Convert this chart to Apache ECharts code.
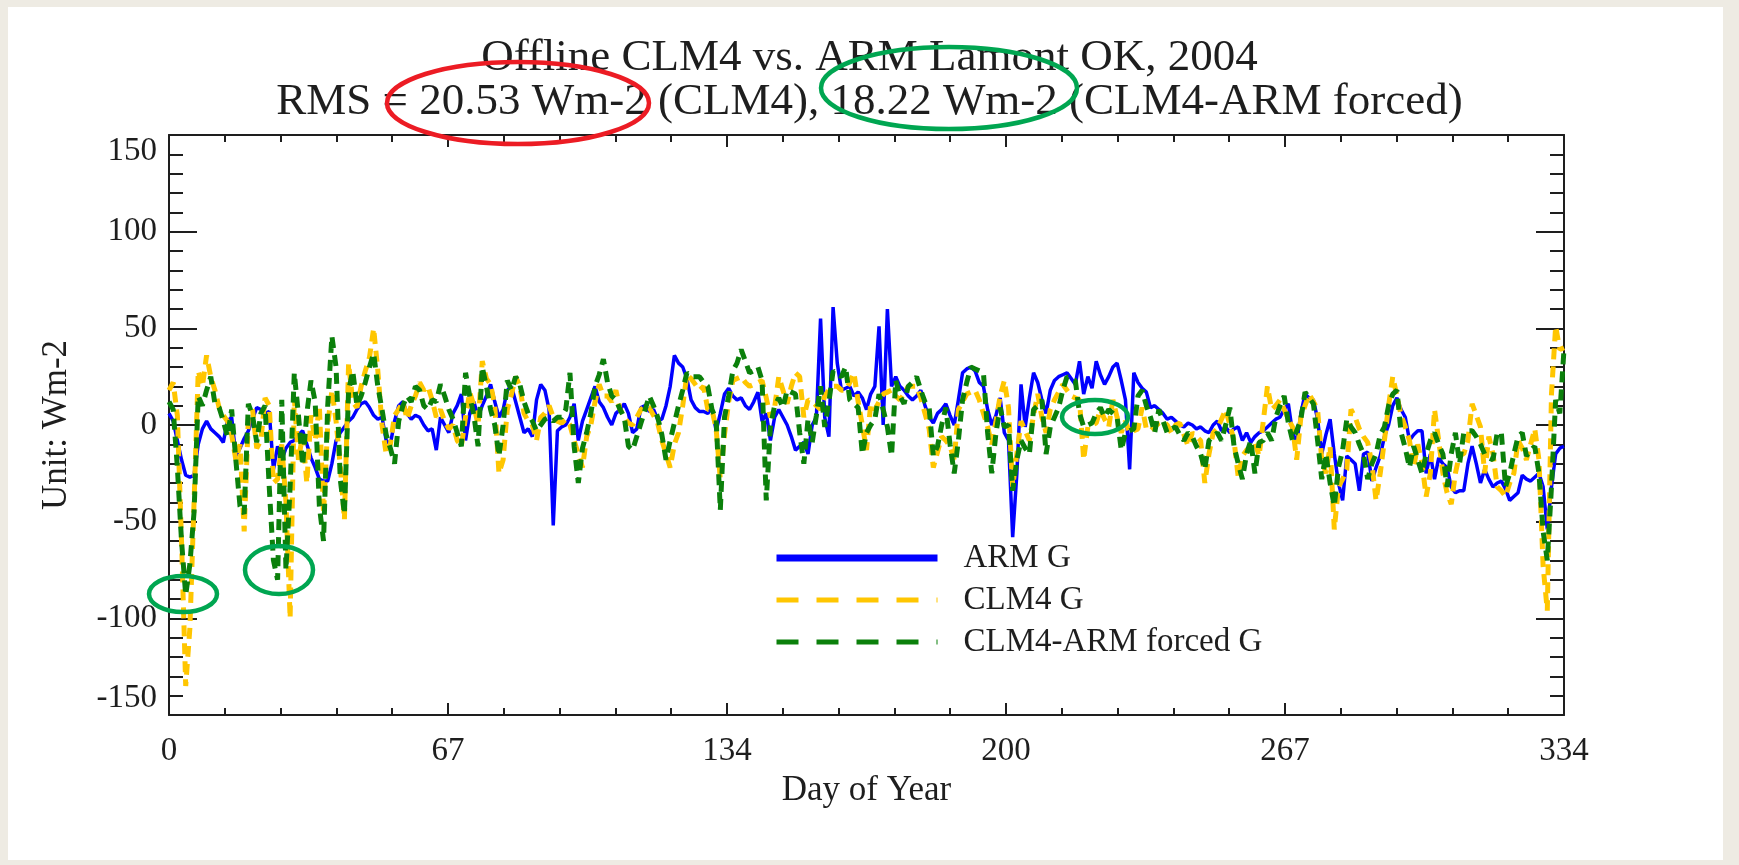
<!DOCTYPE html>
<html>
<head>
<meta charset="UTF-8">
<title>Offline CLM4 vs. ARM Lamont OK, 2004</title>
<script src="https://cdn.jsdelivr.net/npm/echarts@6/dist/echarts.min.js"></script>
<style>
  body { margin: 0; background: #eeebe3; }
  #panel { position: absolute; left: 8px; top: 7px; width: 1715px; height: 853px; background: #fff; }
  #chart { position: absolute; left: 0; top: 0; width: 1739px; height: 865px; }
</style>
</head>
<body>
<div id="panel"></div>
<div id="chart"></div>
<script>
// ground heat flux G (Wm-2), one value per day, day 0 .. 334
var armG = [
  6, 2, -8, -18, -26, -27, -26, -10, -2, 2,
  -2, -4, -6, -9, 2, 4, -16, -12, -7, -3,
  3, 9, 8, 6, 7, -23, -11, -18, -12, -9,
  -8, -5, -3, -10, -17, -22, -28, -29, -29, -20,
  -8, -4, -1, 2, 4, 8, 11, 12, 9, 5,
  3, 4, -8, -10, 2, 10, 12, 6, 3, 5,
  4, 0, -3, -2, -13, 4, 0, -4, 6, 10,
  16, -8, 6, 12, 4, 10, 15, 21, 12, 4,
  8, 18, 20, 12, 4, -4, -2, -6, 13, 21,
  18, 8, -52, -3, -1, 0, 4, 11, -8, 2,
  8, 14, 20, 12, 9, 4, 0, 6, 8, 11,
  6, -4, -2, 9, 10, 7, 8, 3, 3, 10,
  20, 36, 32, 30, 24, 13, 9, 7, 7, 6,
  9, -3, 6, 16, 19, 15, 13, 14, 10, 8,
  12, 17, 2, 6, -8, 4, 8, 4, 0, -6,
  -13, -11, -9, -15, 0, 4, 55, 4, -6, 61,
  32, 18, 19, 20, 15, 17, 14, 8, 16, 20,
  51, 0, 60, 20, 25, 20, 18, 15, 13, 15,
  18, 10, 4, 1, 6, 8, 11, 5, 0, 13,
  27, 29, 30, 28, 22, 20, 8, 0, 5, 14,
  -4, -8, -58, -25, 21, -1, 14, 27, 22, 13,
  6, 18, 23, 25, 26, 27, 24, 21, 33, 16,
  25, 19, 33, 26, 21, 25, 30, 32, 23, 13,
  -23, 27, 22, 19, 17, 9, 10, 8, 6, 3,
  4, 2, 0, -1, 1, 0, -2, -1, -3, -4,
  0, 2, -3, -1, -4, -2, -1, -8, -4, -9,
  -6, -4, -3, -1, 1, 3, 4, 8, 11, -4,
  -9, 6, 16, 14, 13, 3, -15, -5, 3, -15,
  -30, -39, -16, -18, -20, -34, -15, -14, -29, -22,
  -16, -6, 0, 10, 14, 8, 4, -8, -5, -3,
  -3, -25, -15, -28, -17, -20, -22, -32, -35, -34,
  -34, -20, -11, -20, -30, -23, -28, -32, -30, -29,
  -33, -39, -37, -35, -26, -28, -29, -27, -25, -32,
  -54, -32, -15, -12, -11
];

var clm4G = [
  18, 22, 5, -60, -135, -105, -40, 28, 20, 36,
  25, 18, 9, 5, 2, -5, -18, -10, -55, 3,
  8, -12, -8, 14, 10, -30, -28, -10, -40, -100,
  14, -18, -5, -30, 5, -8, 10, -46, 0, 18,
  2, -21, -49, 32, 12, 9, 20, 28, 35, 50,
  28, 0, -15, -10, 5, 8, 12, 3, 10, 15,
  22, 18, 20, 13, 4, 8, 2, -2, 0, -8,
  -11, 4, 17, 10, 0, 33, 24, 21, 10, -25,
  -18, 8, 16, 25, 20, 6, 2, 0, -8, 4,
  6, 10, 4, 2, 1, 3, 0, -8, -15, -22,
  -6, 0, 12, 21, 15, 15, 12, 18, 8, 4,
  1, 0, 4, 8, 10, 9, 5, 1, -8, -15,
  -22, -10, -4, 10, 26, 24, 21, 18, 20, 8,
  8, -2, -28, -5, 12, 23, 24, 25, 22, 20,
  21, 22, 23, 14, 4, 9, 25, 18, 11, 20,
  27, 25, 4, 13, 12, 10, 8, 15, 18, 20,
  20, 18, 18, 22, 27, 12, 0, -13, 11, 8,
  12, 16, 17, 18, 15, 13, 16, 20, 20, 20,
  14, 6, -2, -22, -14, -6, -8, -11, -18, 8,
  12, 16, 17, 18, 13, 6, -1, -10, 2, 15,
  23, 9, -32, -15, 2, -3, -8, 5, 16, 4,
  -4, 8, 13, 17, 21, 18, 15, 14, 13, -18,
  -1, 0, 1, 8, 3, -1, 13, 4, -4, 2,
  -4, -3, -2, 9, -2, -3, -1, 1, 2, 0,
  -4, 0, 1, -5, -11, -4, -6, -8, -30, -15,
  -4, -2, 3, 8, 0, -8, -27, -16, -13, -11,
  -9, -16, 2, 20, 8, 10, 13, 8, 3, -1,
  -18, 4, 10, 16, 12, 8, -18, -25, -11, -54,
  -32, -28, -23, 8, 4, -2, -6, -9, -20, -39,
  -25, -8, 10, 25, 15, 5, -1, -8, -22, -10,
  -20, -37, -25, 8, -8, -25, -35, -41, -25, -15,
  -15, -8, 11, 5, -1, -25, -6, -15, -32, -34,
  -37, -30, -25, -8, -12, -18, -10, -2, -18, -73,
  -96, 16, 51, 39, 40
];

var forcedG = [
  12, 8, -22, -60, -88, -72, -45, 15, 10, 18,
  25, 11, 9, 2, -6, 8, -18, -42, -46, 11,
  5, -9, 6, 10, -32, -70, -80, 13, -75, -32,
  27, 5, -21, 6, 23, 12, -42, -60, 10, 46,
  30, -28, -46, 18, 28, 10, 15, 22, 30, 37,
  20, 8, -5, -12, -20, 2, 10, 15, 12, 20,
  18, 10, 8, 13, 12, 21, 15, 8, 3, -4,
  -11, 27, 15, 5, -11, 30, 20, 8, 0, -16,
  0, 23, 18, 25, 21, 12, 6, 2, -3, 0,
  3, 4, 2, 4, 4, 8, 27, -11, -30, -12,
  -4, 6, 20, 26, 34, 22, 15, 13, 8, 4,
  -11, -13, -6, 1, 8, 15, 10, 4, -5, -18,
  -8, 1, 10, 18, 27, 25, 25, 25, 22, 20,
  8, 3, -44, 4, 15, 28, 32, 39, 33, 27,
  28, 30, 23, -39, -1, 10, 14, 9, 18, 17,
  16, -4, -20, 3, -9, 5, 20, -1, 12, 28,
  26, 25, 30, 13, 11, 9, -15, -4, 0, 3,
  16, 8, -1, -16, 23, 15, 11, 20, 22, 25,
  18, 12, 9, -16, -11, 0, 9, -10, -25, -8,
  13, 22, 30, 29, 28, 27, -4, -25, -4, 9,
  -1, 0, -34, -18, -8, -12, -15, 8, 10, 13,
  -15, -1, 4, 9, 18, 25, 24, 23, 6, -1,
  0, 1, 6, 9, 4, 8, 6, 4, -13, -4,
  -3, -2, 15, 18, 10, 4, -4, 8, 2, -4,
  -2, -1, -5, -8, -4, -6, -11, -15, -23, -8,
  -6, -4, -8, 0, 9, -11, -20, -28, -15, -8,
  -25, -9, -8, -4, -8, 4, 10, 15, 1, -8,
  -3, 3, 17, 14, 11, -8, -28, -15, -30, -42,
  -22, -13, 3, -1, -4, -10, -15, -28, -20, -15,
  -5, -1, 10, 16, 18, -4, -12, -22, -11, -18,
  -25, -15, -8, -4, -10, -15, -32, -15, -4, -20,
  -4, -3, -3, -6, -10, -15, -17, -18, -4, -4,
  -32, -25, -15, -6, -4, -16, -13, -11, -25, -55,
  -70, -32, 13, 6, 39
];

var seriesNames = ['ARM G', 'CLM4 G', 'CLM4-ARM forced G'];
var xTickLabels = ['0', '67', '134', '200', '267', '334'];
var titleLines = ['Offline CLM4 vs. ARM Lamont OK, 2004',
                  'RMS = 20.53 Wm-2 (CLM4), 18.22 Wm-2 (CLM4-ARM forced)'];

var serif = "'Liberation Serif', 'DejaVu Serif', serif";
var ink = '#1e1e1e';

function toPairs(arr) {
    return arr.map(function (v, day) { return [day, v]; });
}

var chart = echarts.init(document.getElementById('chart'));

// shared look of the box axes
function xAxisBase(pos) {
    return {
        type: 'value', position: pos, min: 0, max: 334, interval: 66.8,
        axisLine: { show: true, onZero: false, lineStyle: { color: ink, width: 2 } },
        axisTick: { show: true, inside: true, length: 12, lineStyle: { color: ink, width: 2 } },
        minorTick: { show: true, splitNumber: 5, length: 7, lineStyle: { color: ink, width: 2 } },
        splitLine: { show: false },
        axisLabel: { show: false }
    };
}
function yAxisBase(pos) {
    return {
        type: 'value', position: pos, min: -150, max: 150, interval: 50,
        axisLine: { show: true, onZero: false, lineStyle: { color: ink, width: 2 } },
        axisTick: { show: true, inside: true, length: 28, lineStyle: { color: ink, width: 2 } },
        minorTick: { show: true, splitNumber: 5, length: 14, lineStyle: { color: ink, width: 2 } },
        splitLine: { show: false },
        axisLabel: { show: false }
    };
}

var xBottom = xAxisBase('bottom');
xBottom.axisLabel = {
    show: true, margin: 20, fontFamily: serif, fontSize: 33, color: ink,
    formatter: function (v) { return xTickLabels[Math.round(v / 66.8)]; }
};
xBottom.name = 'Day of Year';
xBottom.nameLocation = 'middle';
xBottom.nameGap = 57;
xBottom.nameTextStyle = { fontFamily: serif, fontSize: 35, color: ink };

var yLeft = yAxisBase('left');
yLeft.axisLabel = {
    show: true, margin: 12, fontFamily: serif, fontSize: 33, color: ink,
    verticalAlignMaxLabel: 'top', verticalAlignMinLabel: 'bottom'
};
yLeft.name = 'Unit: Wm-2';
yLeft.nameLocation = 'middle';
yLeft.nameRotate = 90;
yLeft.nameGap = 95;
yLeft.nameTextStyle = { fontFamily: serif, fontSize: 35, color: ink };

function ellipse(cx, cy, rx, ry, color) {
    return {
        type: 'ellipse', z: 100, silent: true,
        shape: { cx: cx, cy: cy, rx: rx, ry: ry },
        style: { fill: 'none', stroke: color, lineWidth: 4.5 }
    };
}

var option = {
    animation: false,
    title: {
        text: titleLines.join('\n'),
        left: 'center',
        top: 31,
        textStyle: { fontFamily: serif, fontSize: 45, lineHeight: 44, fontWeight: 'normal', color: ink }
    },
    grid: { left: 169, right: 175, top: 135, bottom: 150, containLabel: false },
    legend: {
        orient: 'vertical', left: 773, top: 538, padding: 0,
        itemWidth: 161, itemHeight: 14, itemGap: 2,
        selectedMode: false,
        itemStyle: { opacity: 0 },
        textStyle: { fontFamily: serif, fontSize: 33, lineHeight: 40, color: ink, padding: [0, 0, 0, 21] },
        data: [
            { name: seriesNames[0], lineStyle: { width: 7 } },
            { name: seriesNames[1], lineStyle: { type: [22, 18], width: 5 } },
            { name: seriesNames[2], lineStyle: { type: [22, 18], width: 5 } }
        ]
    },
    xAxis: [xBottom, xAxisBase('top')],
    yAxis: [yLeft, yAxisBase('right')],
    series: [
        {
            name: seriesNames[0], type: 'line', symbol: 'none', z: 2,
            lineStyle: { color: '#0000ff', width: 3.5 },
            itemStyle: { color: '#0000ff' },
            data: toPairs(armG)
        },
        {
            name: seriesNames[1], type: 'line', symbol: 'none', z: 3,
            lineStyle: { color: '#ffc600', width: 5, type: [11, 7] },
            itemStyle: { color: '#ffc600' },
            data: toPairs(clm4G)
        },
        {
            name: seriesNames[2], type: 'line', symbol: 'none', z: 4,
            lineStyle: { color: '#0b800b', width: 5, type: [11, 7] },
            itemStyle: { color: '#0b800b' },
            data: toPairs(forcedG)
        }
    ],
    // hand-drawn highlight rings on the original slide
    graphic: [
        ellipse(518, 103, 131, 41, '#ec1c24'),
        ellipse(949, 88, 128, 41, '#00a651'),
        ellipse(183, 594, 34, 18, '#00a651'),
        ellipse(279, 570, 34, 24, '#00a651'),
        ellipse(1095, 417, 33, 17, '#00a651')
    ]
};

chart.setOption(option);
</script>
</body>
</html>
